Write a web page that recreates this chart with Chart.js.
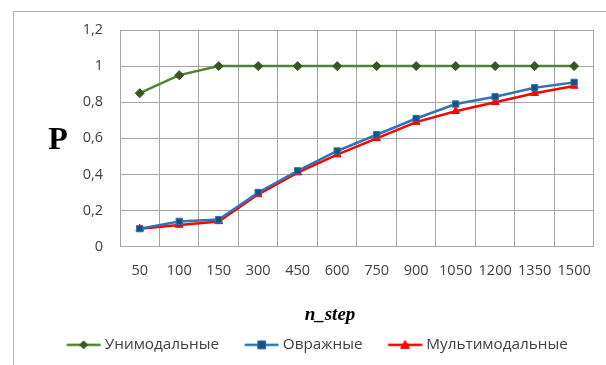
<!DOCTYPE html>
<html><head><meta charset="utf-8">
<script src="https://cdn.jsdelivr.net/npm/chart.js@4/dist/chart.umd.min.js"></script>
<style>html,body{margin:0;padding:0;background:#fff}#wrap{width:606px;height:365px;position:relative}</style>
</head><body><div id="wrap"><canvas id="c" width="606" height="365"></canvas></div>
<script>
const categories = ['50','100','150','300','450','600','750','900','1050','1200','1350','1500'];
const unimodal = [0.85,0.95,1,1,1,1,1,1,1,1,1,1];
const ravine   = [0.10,0.14,0.15,0.30,0.42,0.53,0.62,0.71,0.79,0.83,0.88,0.91];
const multimodal = [0.10,0.12,0.14,0.29,0.41,0.51,0.60,0.69,0.75,0.80,0.85,0.89];
const seriesNames = ['Унимодальные','Овражные','Мультимодальные'];
const yTitle = 'P';
const xTitle = 'n_step';

const FONT = 'Open Sans';
const TXT = '#404040';
const BOXW = 46;

function legendIcon(lineColor, style, fill, stroke){
  const W = BOXW + 8;
  const c = document.createElement('canvas');
  c.width = W; c.height = 12;
  const g = c.getContext('2d');
  const x1 = BOXW - 26.5, x2 = BOXW + 7.5, cx = (x1 + x2) / 2;
  g.strokeStyle = lineColor; g.lineWidth = 2.5;
  g.beginPath(); g.moveTo(x1,6); g.lineTo(x2,6); g.stroke();
  g.fillStyle = fill; g.strokeStyle = stroke; g.lineWidth = 1;
  g.beginPath();
  if (style==='diamond'){ g.moveTo(cx,2); g.lineTo(cx+4,6); g.lineTo(cx,10); g.lineTo(cx-4,6); g.closePath(); }
  else if (style==='square'){ g.rect(cx-4,2,8,8); }
  else { g.moveTo(cx,1.5); g.lineTo(cx+4.5,9.5); g.lineTo(cx-4.5,9.5); g.closePath(); }
  g.fill(); g.stroke();
  return c;
}
const icons = [
  legendIcon('#548235','diamond','#375623','#375623'),
  legendIcon('#2e75b6','square','#1f4e79','#2e75b6'),
  legendIcon('#ff0000','triangle','#ff0000','#ff0000')
];

const deco = {
  id:'deco',
  beforeDraw(chart){
    const ctx = chart.ctx;
    ctx.save();
    ctx.fillStyle='#fff'; ctx.fillRect(0,0,chart.width,chart.height);
    ctx.strokeStyle='#b0b0b0'; ctx.lineWidth=1;
    ctx.beginPath(); ctx.moveTo(13.5,366); ctx.lineTo(13.5,11.5); ctx.lineTo(607,11.5); ctx.stroke();
    ctx.restore();
  },
  afterDraw(chart){
    const ctx = chart.ctx;
    ctx.save();
    ctx.fillStyle='#000';
    ctx.textAlign='center'; ctx.textBaseline='middle';
    ctx.font='bold 32px "Liberation Serif"';
    ctx.fillText(yTitle, 58, 141);
    ctx.font='bold italic 19px "Liberation Serif"';
    ctx.fillText(xTitle, 330, 315);
    ctx.restore();
  }
};

new Chart(document.getElementById('c'), {
  type:'line',
  data:{
    labels: categories,
    datasets:[
      {label:seriesNames[0], data:unimodal, borderColor:'#548235', backgroundColor:'#375623', pointBackgroundColor:'#375623', pointBorderColor:'#375623', pointStyle:'rectRot', pointRadius:4.5, borderWidth:2.5, pointBorderWidth:1},
      {label:seriesNames[1], data:ravine, borderColor:'#2e75b6', backgroundColor:'#1f4e79', pointBackgroundColor:'#1f4e79', pointBorderColor:'#2e75b6', pointStyle:'rect', pointRadius:4.5, borderWidth:2.5, pointBorderWidth:1},
      {label:seriesNames[2], data:multimodal, borderColor:'#ff0000', backgroundColor:'#ff0000', pointBackgroundColor:'#ff0000', pointBorderColor:'#ff0000', pointStyle:'triangle', pointRadius:4.5, borderWidth:2.5, pointBorderWidth:1}
    ]
  },
  options:{
    responsive:false, animation:false,
    layout:{padding:{left:20,right:7,top:30,bottom:2.5}},
    plugins:{
      tooltip:{enabled:false},
      legend:{
        position:'bottom',
        labels:{
          usePointStyle:true, pointStyleWidth:BOXW, boxHeight:12,
          padding:10, color:TXT, font:{family:FONT,size:15.3},
          generateLabels(chart){
            return chart.data.datasets.map((d,i)=>({text:d.label, pointStyle:icons[i], fillStyle:'#fff', strokeStyle:'#fff', lineWidth:0, datasetIndex:i, hidden:false, fontColor:TXT}));
          }
        }
      }
    },
    scales:{
      x:{
        offset:true,
        grid:{color:'#a6a6a6', lineWidth:1, offset:true, drawTicks:false},
        border:{color:'#a6a6a6'},
        ticks:{color:TXT, font:{family:FONT,size:14.5}, padding:15, maxRotation:0, autoSkip:false},
        afterFit(s){ s.height = 80.5; }
      },
      y:{
        min:0, max:1.2,
        grid:{color:'#a6a6a6', lineWidth:1, drawTicks:false},
        border:{color:'#a6a6a6'},
        ticks:{stepSize:0.2, color:TXT, font:{family:FONT,size:14.5}, padding:17,
          callback(v){ return (Math.round(v*10)/10).toString().replace('.',','); }},
        afterFit(s){ s.width = 100; }
      }
    }
  },
  plugins:[deco]
});
</script></body></html>
